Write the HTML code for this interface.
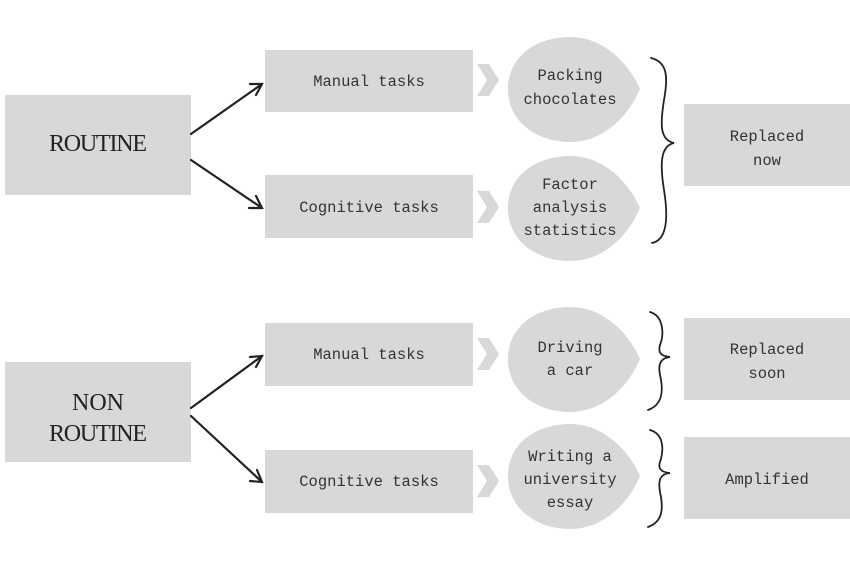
<!DOCTYPE html>
<html><head><style>
body{margin:0;background:#fff;width:850px;height:560px;overflow:hidden}
</style></head><body>
<svg width="850" height="560" viewBox="0 0 850 560" xmlns="http://www.w3.org/2000/svg" font-family="Liberation Mono, monospace" fill="#333">
<defs>
<path id="blob" d="M0,52 C0,18 30,0 62,0 C95,0 120,25 132,52 C120,80 95,105 62,105 C30,105 0,86 0,52Z"/>
<path id="chev" d="M0,0 L12,0 L22,16 L12,32 L0,32 L10,16Z"/>
</defs>
<g fill="#d9d8d8">
<rect x="5" y="95" width="186" height="100"/>
<rect x="265" y="50" width="208" height="62"/>
<rect x="265" y="175" width="208" height="63"/>
<rect x="684" y="104" width="166" height="82"/>
<rect x="5" y="362" width="186" height="100"/>
<rect x="265" y="323" width="208" height="63"/>
<rect x="265" y="450" width="208" height="63"/>
<rect x="684" y="318" width="166" height="82"/>
<rect x="684" y="437" width="166" height="82"/>
<use href="#blob" x="508" y="37"/>
<use href="#blob" x="508" y="156"/>
<use href="#blob" x="508" y="307"/>
<use href="#blob" x="508" y="424"/>
<use href="#chev" x="477" y="64"/>
<use href="#chev" x="477" y="191"/>
<use href="#chev" x="477" y="338"/>
<use href="#chev" x="477" y="465"/>
</g>
<g stroke="#222" stroke-width="2.2" fill="none" stroke-linecap="round">
<path d="M191,134 L262,84 M250,84 L262,84 L256,95"/>
<path d="M191,160 L262,208 M256,196 L262,208 L249,208"/>
<path d="M191,408 L262,356 M250,357 L262,356 L256,367"/>
<path d="M191,416 L262,482 M257,470 L262,482 L250,481"/>
<path d="M651,58 C668,62 668,78 664,100 C660,125 660,140 674,143 C660,146 660,165 664,190 C668,215 668,240 652,243" stroke-width="1.8"/>
<path d="M650,312 C664,316 664,335 660,345 C658,352 660,356 670,357 C660,358 658,365 660,375 C664,392 662,405 648,410" stroke-width="1.8"/>
<path d="M650,430 C664,434 664,450 660,462 C658,468 660,472 670,473 C660,474 658,480 660,492 C664,510 662,522 648,527" stroke-width="1.8"/>
</g>
<g text-anchor="middle" font-size="15.5">
<text x="369" y="86">Manual tasks</text>
<text x="369" y="212">Cognitive tasks</text>
<text x="369" y="359">Manual tasks</text>
<text x="369" y="486">Cognitive tasks</text>
<text x="570" y="80">Packing</text>
<text x="570" y="104">chocolates</text>
<text x="570" y="189">Factor</text>
<text x="570" y="212">analysis</text>
<text x="570" y="235">statistics</text>
<text x="570" y="352">Driving</text>
<text x="570" y="375">a car</text>
<text x="570" y="461">Writing a</text>
<text x="570" y="484">university</text>
<text x="570" y="507">essay</text>
<text x="767" y="141">Replaced</text>
<text x="767" y="165">now</text>
<text x="767" y="354">Replaced</text>
<text x="767" y="378">soon</text>
<text x="767" y="484">Amplified</text>
<g font-size="24" fill="#222" font-family="Liberation Serif, serif">
<text x="98" y="151" textLength="98">ROUTINE</text>
<text x="98" y="410">NON</text>
<text x="98" y="441" textLength="98">ROUTINE</text>
</g>
</g>
</svg>
</body></html>
